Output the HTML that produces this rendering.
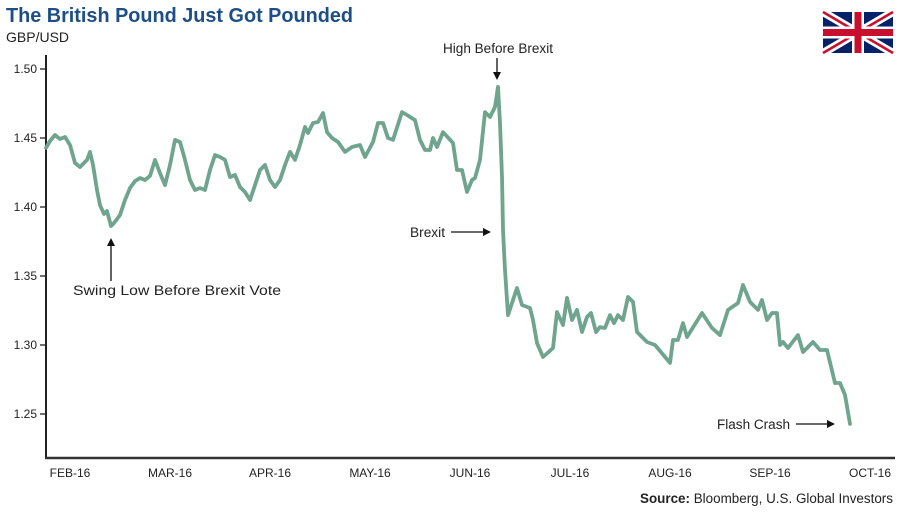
<!DOCTYPE html>
<html><head><meta charset="utf-8"><style>
body{margin:0;background:#fff;width:900px;height:516px;overflow:hidden;font-family:"Liberation Sans",sans-serif}
svg{display:block}
</style></head><body>
<svg id="chart" width="900" height="516">
<text x="6" y="22" font-size="20" font-weight="bold" fill="#1d4f86" textLength="347" lengthAdjust="spacingAndGlyphs">The British Pound Just Got Pounded</text>
<text x="6" y="42" font-size="14" fill="#222">GBP/USD</text>
<g>
<rect x="823" y="12" width="70" height="41" fill="#012169"/>
<path d="M823,12L893,53M893,12L823,53" stroke="#fff" stroke-width="8"/>
<path d="M823,12L893,53M893,12L823,53" stroke="#C8102E" stroke-width="2.5"/>
<path d="M858,12V53M823,32.5H893" stroke="#fff" stroke-width="12"/>
<path d="M858,12V53M823,32.5H893" stroke="#C8102E" stroke-width="7"/>
</g>
<g id="axes"></g>
<g id="series"></g>
<g font-size="13.5" fill="#222">
<text x="443" y="53" textLength="110" lengthAdjust="spacingAndGlyphs">High Before Brexit</text>
<path d="M497,58V74" stroke="#111" stroke-width="1.3"/><path d="M493,72L497,80L501,72Z" fill="#111"/>
<text x="410" y="237" textLength="35" lengthAdjust="spacingAndGlyphs">Brexit</text>
<path d="M451,232H484" stroke="#111" stroke-width="1.3"/><path d="M483,228L491,232L483,236Z" fill="#111"/>
<text x="73" y="295" textLength="208" lengthAdjust="spacingAndGlyphs">Swing Low Before Brexit Vote</text>
<path d="M111,281V244" stroke="#111" stroke-width="1.3"/><path d="M107,246L111,238L115,246Z" fill="#111"/>
<text x="717" y="429" textLength="73" lengthAdjust="spacingAndGlyphs">Flash Crash</text>
<path d="M796,424H828" stroke="#111" stroke-width="1.3"/><path d="M827,420L835,424L827,428Z" fill="#111"/>
</g>
<text x="640" y="503" font-size="13.5" fill="#222" textLength="253" lengthAdjust="spacingAndGlyphs"><tspan font-weight="bold">Source:</tspan> Bloomberg, U.S. Global Investors</text>
</svg>
<script>
const monthLabels=["FEB-16","MAR-16","APR-16","MAY-16","JUN-16","JUL-16","AUG-16","SEP-16","OCT-16"];
const yTicks=[1.25,1.30,1.35,1.40,1.45,1.50];
const yTickLabels=["1.25","1.30","1.35","1.40","1.45","1.50"];
const months=[-0.24,-0.20,-0.15,-0.10,-0.05,0,.05,.10,.17,.20,.23,.27,.30,.34,.37,.41,.44,.50,.55,.60,.65,.70,.75,.80,.85,.90,.95,1.00,1.05,1.10,1.15,1.20,1.25,1.30,1.35,1.40,1.45,1.50,1.55,1.60,1.65,1.70,1.75,1.80,1.85,1.90,1.95,2.00,2.05,2.10,2.15,2.20,2.25,2.30,2.35,2.38,2.43,2.48,2.53,2.57,2.62,2.68,2.75,2.82,2.90,2.95,3.03,3.08,3.13,3.18,3.23,3.32,3.37,3.45,3.50,3.55,3.60,3.63,3.67,3.73,3.83,3.87,3.92,3.97,4.02,4.05,4.10,4.15,4.20,4.25,4.28,4.30,4.32,4.33,4.35,4.38,4.47,4.52,4.60,4.63,4.67,4.73,4.83,4.87,4.93,4.97,5.02,5.07,5.12,5.17,5.21,5.26,5.30,5.35,5.40,5.44,5.48,5.53,5.58,5.63,5.67,5.77,5.85,6.00,6.03,6.08,6.13,6.17,6.32,6.42,6.50,6.58,6.68,6.73,6.80,6.88,6.92,6.97,7.02,7.07,7.10,7.13,7.18,7.28,7.33,7.43,7.50,7.57,7.65,7.70,7.75,7.80];
const rates=[1.4428,1.4478,1.4522,1.4493,1.4507,1.4449,1.4319,1.4290,1.4341,1.4399,1.4304,1.4123,1.4014,1.3949,1.3971,1.3862,1.3884,1.3942,1.4051,1.4138,1.4188,1.4210,1.4196,1.4225,1.4341,1.4246,1.4159,1.4304,1.4486,1.4471,1.4341,1.4196,1.4123,1.4138,1.4123,1.4268,1.4377,1.4362,1.4341,1.4217,1.4232,1.4145,1.4109,1.4051,1.4159,1.4268,1.4304,1.4196,1.4145,1.4196,1.4304,1.4399,1.4341,1.4449,1.4580,1.4536,1.4609,1.4616,1.4681,1.4543,1.4500,1.4471,1.4399,1.4435,1.4449,1.4362,1.4471,1.4609,1.4609,1.4500,1.4486,1.4688,1.4667,1.4630,1.4486,1.4413,1.4413,1.4500,1.4435,1.4543,1.4464,1.4268,1.4268,1.4109,1.4196,1.4210,1.4341,1.4688,1.4652,1.4725,1.4870,1.4609,1.4217,1.3833,1.3543,1.3217,1.3413,1.3290,1.3268,1.3181,1.3014,1.2913,1.2978,1.3239,1.3145,1.3341,1.3181,1.3254,1.3094,1.3203,1.3232,1.3094,1.3130,1.3123,1.3217,1.3159,1.3217,1.3181,1.3348,1.3312,1.3094,1.3022,1.3000,1.2870,1.3036,1.3036,1.3159,1.3058,1.3232,1.3123,1.3072,1.3254,1.3304,1.3435,1.3312,1.3254,1.3326,1.3181,1.3232,1.3232,1.3000,1.3022,1.2978,1.3072,1.2949,1.3022,1.2964,1.2964,1.2725,1.2725,1.2638,1.2428];
const NS="http://www.w3.org/2000/svg";
const xS=m=>70+m*100;
const yS=v=>69+(1.50-v)*1380;
const axes=document.getElementById('axes'),series=document.getElementById('series');
function mk(tag,attrs,parent){const e=document.createElementNS(NS,tag);for(const k in attrs)e.setAttribute(k,attrs[k]);parent.appendChild(e);return e;}
const ya=mk('line',{x1:46,y1:55,x2:46,y2:458,stroke:'#222','stroke-width':2},axes);


const xa=mk('line',{x1:45,y1:458,x2:895,y2:458,stroke:'#333','stroke-width':2.5},axes);


yTicks.forEach((v,i)=>{
 const t=mk('line',{x1:40,x2:46,y1:yS(v),y2:yS(v),stroke:'#222','stroke-width':1.3},axes);
 
 
 const l=mk('text',{x:37,y:yS(v)+4,'text-anchor':'end','font-size':12,fill:'#222'},axes);
 l.textContent=yTickLabels[i];
 
 
});
monthLabels.forEach((m,i)=>{
 const l=mk('text',{x:xS(i),y:477,'text-anchor':'middle','font-size':12,fill:'#222'},axes);
 l.textContent=m;
 
 
});
const d=months.map((m,i)=>(i?'L':'M')+xS(m).toFixed(1)+','+yS(rates[i]).toFixed(1)).join('');
const p=mk('path',{d:d,fill:'none',stroke:'#6fa48e','stroke-width':3.8,'stroke-linejoin':'round','stroke-linecap':'round'},series);


</script>
</body></html>
